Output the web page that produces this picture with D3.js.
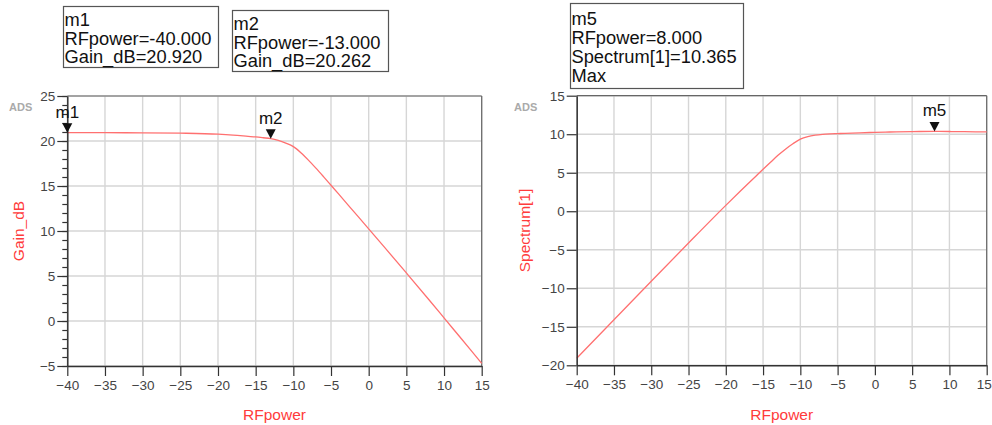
<!DOCTYPE html>
<html>
<head>
<meta charset="utf-8">
<script src="https://cdn.jsdelivr.net/npm/d3@7/dist/d3.min.js"></script>
<style>
  html, body { margin: 0; padding: 0; background: #fff; }
  svg { display: block; font-family: "Liberation Sans", Arial, sans-serif; }
</style>
</head>
<body>
<svg id="chart" width="992" height="425"></svg>
<script>
// ---- Data ----
const rfPower = [-40, -35, -30, -25, -20, -18, -16, -15, -14, -13, -12, -11, -10, -9, -8, -7, -6, -5, -4, -2, 0, 2, 5, 8, 10, 12, 15];
const gainDb  = [20.92, 20.92, 20.91, 20.87, 20.76, 20.66, 20.52, 20.45, 20.36, 20.262, 20.06, 19.76, 19.37, 18.70, 17.88, 16.98, 16.04, 15.08, 14.12, 12.18, 10.24, 8.29, 5.34, 2.365, 0.35, -1.67, -4.70];
const spectrum1 = [-19.08, -14.08, -9.09, -4.13, 0.76, 2.66, 4.52, 5.45, 6.36, 7.26, 8.06, 8.76, 9.37, 9.70, 9.88, 9.98, 10.04, 10.08, 10.12, 10.18, 10.24, 10.29, 10.34, 10.365, 10.35, 10.33, 10.30];

const xTicks = [-40, -35, -30, -25, -20, -15, -10, -5, 0, 5, 10, 15];
const gainTicks = [-5, 0, 5, 10, 15, 20, 25];
const specTicks = [-20, -15, -10, -5, 0, 5, 10, 15];

const markersLeft = [
  { name: "m1", x: -40, y: 20.920, lines: ["m1", "RFpower=-40.000", "Gain_dB=20.920"] },
  { name: "m2", x: -13, y: 20.262, lines: ["m2", "RFpower=-13.000", "Gain_dB=20.262"] }
];
const markersRight = [
  { name: "m5", x: 8, y: 10.365, lines: ["m5", "RFpower=8.000", "Spectrum[1]=10.365", "Max"] }
];

// ---- Drawing ----
const svg = d3.select("#chart");
const RED = "#ff3b3b";
const LINE = "#ff7070";

function panel(opts) {
  const { x0, x1, y0, y1, yDomain, yTicks, yMinor, series, yTitle, yTitleX, adsX, markers, lastDx } = opts;
  const x = d3.scaleLinear().domain([-40, 15]).range([x0, x1]);
  const y = d3.scaleLinear().domain(yDomain).range([y1, y0]);
  const g = svg.append("g");

  // grid
  g.append("g").selectAll("line").data(xTicks).join("line")
    .attr("x1", d => x(d)).attr("x2", d => x(d)).attr("y1", y0).attr("y2", y1)
    .attr("stroke", "#d6d6d6").attr("stroke-width", 1.4);
  g.append("g").selectAll("line").data(yTicks).join("line")
    .attr("y1", d => y(d)).attr("y2", d => y(d)).attr("x1", x0).attr("x2", x1)
    .attr("stroke", "#d6d6d6").attr("stroke-width", 1.4);

  // top/right frame
  g.append("line").attr("x1", x0).attr("x2", x1).attr("y1", y0).attr("y2", y0)
    .attr("stroke", "#666").attr("stroke-width", 1.2);
  g.append("line").attr("x1", x1).attr("x2", x1).attr("y1", y0).attr("y2", y1)
    .attr("stroke", "#666").attr("stroke-width", 1.2);

  // curve
  const line = d3.line().x((d, i) => x(rfPower[i])).y(d => y(d)).curve(d3.curveMonotoneX);
  g.append("path").datum(series).attr("d", line)
    .attr("fill", "none").attr("stroke", LINE).attr("stroke-width", 1.3);

  // minor y ticks
  if (yMinor) {
    const minor = d3.range(yDomain[0], yDomain[1] + 0.001, 1);
    g.append("g").attr("transform", `translate(${x0},0)`)
      .call(d3.axisLeft(y).tickValues(minor).tickSize(5).tickFormat(""))
      .call(s => s.select(".domain").remove())
      .selectAll("line").attr("stroke", "#333").attr("stroke-width", 1.2);
  }

  // axes
  const ya = g.append("g").attr("transform", `translate(${x0},0)`)
    .call(d3.axisLeft(y).tickValues(yTicks).tickSize(10).tickSizeOuter(0).tickPadding(2).tickFormat(d3.format("d")));
  const xa = g.append("g").attr("transform", `translate(0,${y1})`)
    .call(d3.axisBottom(x).tickValues(xTicks).tickSize(10).tickSizeOuter(0).tickPadding(4).tickFormat(d3.format("d")));
  [ya, xa].forEach(a => {
    a.select(".domain").attr("stroke", "#333").attr("stroke-width", 1.5);
    a.selectAll(".tick line").attr("stroke", "#333").attr("stroke-width", 1.2);
    a.selectAll(".tick text").attr("fill", "#444").attr("font-size", 13.5)
      .attr("font-family", "'Liberation Sans', Arial, sans-serif");
  });
  if (lastDx) xa.selectAll(".tick text").filter(d => d === 15).attr("dx", lastDx);

  // titles
  svg.append("text").attr("x", (x0 + x1) / 2).attr("y", 420).attr("text-anchor", "middle")
    .attr("fill", RED).attr("font-size", 15.5).text("RFpower");
  svg.append("text").attr("transform", `translate(${yTitleX},${(y0 + y1) / 2}) rotate(-90)`)
    .attr("text-anchor", "middle").attr("fill", RED).attr("font-size", 15.5).text(yTitle);
  svg.append("text").attr("x", adsX).attr("y", 111).attr("fill", "#aaa")
    .attr("font-size", 11).attr("font-weight", "bold").text("ADS");

  // markers
  markers.forEach(m => {
    const px = x(m.x), py = y(m.y);
    g.append("path").attr("d", `M${px - 5},${py - 9.5}L${px + 5},${py - 9.5}L${px},${py}Z`).attr("fill", "#111");
    g.append("text").attr("x", px).attr("y", py - 15).attr("text-anchor", "middle")
      .attr("font-size", 17).attr("fill", "#111").text(m.name);
  });
  return { x, y };
}

panel({ x0: 67.3, x1: 481.7, y0: 96, y1: 366, yDomain: [-5, 25], yTicks: gainTicks, yMinor: true,
  series: gainDb, yTitle: "Gain_dB", yTitleX: 24, adsX: 9, markers: markersLeft });
panel({ x0: 576.7, x1: 986.7, y0: 95.7, y1: 365.3, yDomain: [-20, 15], yTicks: specTicks, yMinor: false,
  series: spectrum1, yTitle: "Spectrum[1]", yTitleX: 530, adsX: 514, markers: markersRight, lastDx: -3 });

// marker readout boxes
const boxes = [
  { x: 63, y: 6, w: 155, h: 61, base: 26, lh: 18.5, lines: markersLeft[0].lines },
  { x: 232, y: 10, w: 156, h: 61, base: 30, lh: 18.5, lines: markersLeft[1].lines },
  { x: 570, y: 3, w: 173, h: 85, base: 25, lh: 18.9, lines: markersRight[0].lines }
];
boxes.forEach(b => {
  svg.append("rect").attr("x", b.x + 0.5).attr("y", b.y + 0.5).attr("width", b.w).attr("height", b.h)
    .attr("fill", "#fff").attr("stroke", "#555").attr("stroke-width", 1.2);
  svg.append("g").selectAll("text").data(b.lines).join("text")
    .attr("x", b.x + 1.5).attr("y", (d, i) => b.base + i * b.lh)
    .attr("font-size", 18.3).attr("fill", "#111").text(d => d);
});
</script>
</body>
</html>
